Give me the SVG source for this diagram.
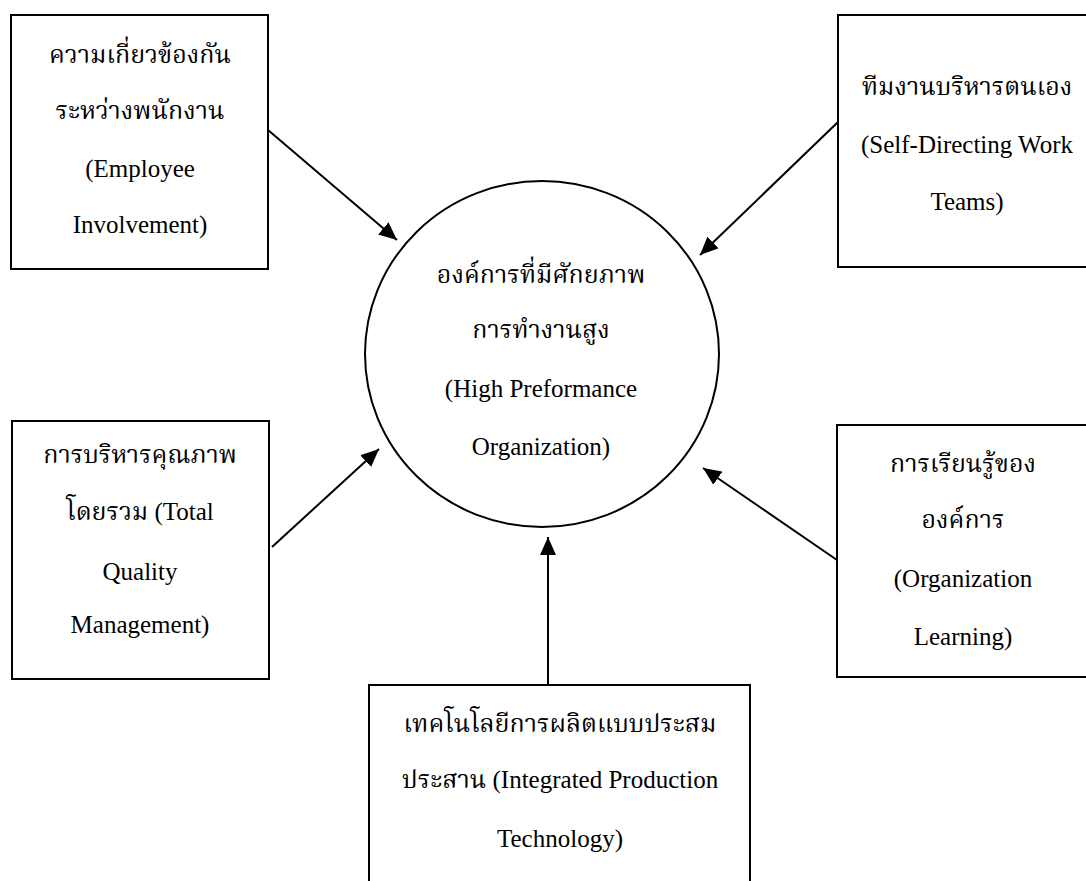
<svg xmlns="http://www.w3.org/2000/svg" width="1086" height="881" viewBox="0 0 1086 881">
<style>
  .box { fill: #ffffff; stroke: #000000; stroke-width: 2; }
  .conn { stroke: #000000; stroke-width: 2; fill: none; marker-end: url(#arrow); }
  text { font-size: 25px; fill: #000000; text-anchor: middle; }
  .en { font-family: "Liberation Serif", "Times New Roman", serif; }
  .th { font-family: "Liberation Serif", "Noto Serif Thai", "Noto Sans Thai", serif; }
</style>
<defs>
  <marker id="arrow" markerUnits="userSpaceOnUse" markerWidth="20" markerHeight="16" refX="18" refY="8" orient="auto">
    <polygon points="0,0 18,8 0,16" fill="#000000"/>
  </marker>
</defs>
<rect width="1086" height="881" fill="#ffffff"/>
<g id="connectors">
  <line class="conn" x1="268" y1="130" x2="397" y2="240"/>
  <line class="conn" x1="838" y1="122" x2="700" y2="255"/>
  <line class="conn" x1="272" y1="547" x2="379" y2="449"/>
  <line class="conn" x1="837" y1="560" x2="703" y2="468"/>
  <line class="conn" x1="548" y1="685" x2="548" y2="537"/>
</g>
<g id="center">
  <ellipse cx="542" cy="354" rx="177" ry="173" fill="#ffffff" stroke="#000000" stroke-width="2"/>
  <text class="th" x="541" y="283">องค์การที่มีศักยภาพ</text>
  <text class="th" x="541" y="338">การทำงานสูง</text>
  <text class="en" x="541" y="397">(High Preformance</text>
  <text class="en" x="541" y="455">Organization)</text>
</g>
<g id="employee">
  <rect class="box" x="11" y="15" width="257" height="254"/>
  <text class="th" x="140" y="63">ความเกี่ยวข้องกัน</text>
  <text class="th" x="140" y="119">ระหว่างพนักงาน</text>
  <text class="en" x="140" y="177">(Employee</text>
  <text class="en" x="140" y="233">Involvement)</text>
</g>
<g id="selfdirecting">
  <rect class="box" x="838" y="15" width="260" height="252"/>
  <text class="th" x="967" y="95">ทีมงานบริหารตนเอง</text>
  <text class="en" x="967" y="153">(Self-Directing Work</text>
  <text class="en" x="967" y="210">Teams)</text>
</g>
<g id="tqm">
  <rect class="box" x="12" y="421" width="257" height="258"/>
  <text class="th" x="140" y="463">การบริหารคุณภาพ</text>
  <text class="th" x="140" y="520">โดยรวม (Total</text>
  <text class="en" x="140" y="580">Quality</text>
  <text class="en" x="140" y="633">Management)</text>
</g>
<g id="learning">
  <rect class="box" x="837" y="425" width="260" height="252"/>
  <text class="th" x="963" y="472">การเรียนรู้ของ</text>
  <text class="th" x="963" y="528">องค์การ</text>
  <text class="en" x="963" y="587">(Organization</text>
  <text class="en" x="963" y="645">Learning)</text>
</g>
<g id="production">
  <rect class="box" x="369" y="685" width="381" height="220"/>
  <text class="th" x="560" y="732">เทคโนโลยีการผลิตแบบประสม</text>
  <text class="th" x="560" y="788">ประสาน (Integrated Production</text>
  <text class="en" x="560" y="847">Technology)</text>
</g>
</svg>
